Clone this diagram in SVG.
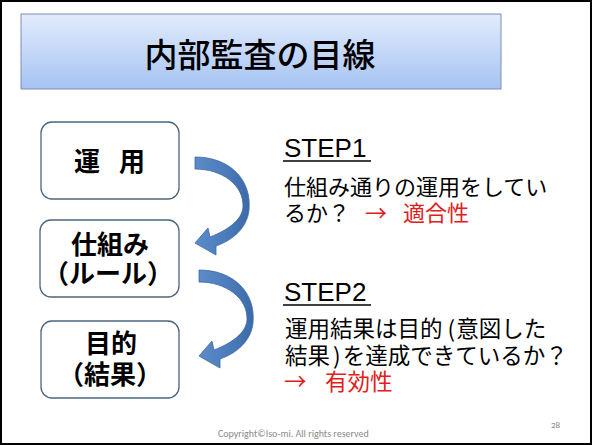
<svg xmlns="http://www.w3.org/2000/svg" width="592" height="445" viewBox="0 0 592 445">
<style>
.jp{font-family:"Noto Sans CJK JP","Noto Sans",sans-serif;}
.box{fill:#fff;stroke:#4b6580;stroke-width:1.3;}
.bt{font-family:"Noto Sans CJK JP",sans-serif;font-size:26px;font-weight:bold;fill:#000;text-anchor:middle;}
.body{font-family:"Noto Sans CJK JP",sans-serif;font-size:22px;fill:#000;}
.body2{font-family:"Noto Sans CJK JP",sans-serif;font-size:22.5px;fill:#000;}
.red{fill:#e02020;}
.step{font-family:"Liberation Sans",Arial,sans-serif;font-size:26px;fill:#000;}
.arrow{fill:url(#ag);stroke:#3b6aa3;stroke-width:0.8;}
.foot{font-family:Carlito,"Liberation Sans",sans-serif;fill:#8a8a8a;}
</style>
<defs>
<linearGradient id="tg" x1="0" y1="0" x2="0" y2="1">
<stop offset="0" stop-color="#e2ecfc"/>
<stop offset="1" stop-color="#a6c3f3"/>
</linearGradient>
<linearGradient id="ag" x1="0" y1="0" x2="1" y2="0">
<stop offset="0" stop-color="#5b8bc8"/>
<stop offset="0.6" stop-color="#4a7aba"/>
<stop offset="1" stop-color="#3c6aa8"/>
</linearGradient>
<path id="carrow" d="M195,157 C230,157 252,180 249,210 C247,228 233,240 216,246 L216,255 L195,243 L208,228 L210,237 C228,230 242,220 243,207 C244,185 222,169 195,169 Z"/>
</defs>
<rect x="0" y="0" width="592" height="445" fill="#fff"/>
<rect x="1" y="1" width="590" height="443" fill="none" stroke="#000" stroke-width="2"/>

<g id="title">
<rect x="21" y="14" width="480" height="75" fill="url(#tg)" stroke="#7d90b2" stroke-width="1"/>
<text x="260" y="67" class="jp" font-size="33" font-weight="500" text-anchor="middle" fill="#000">内部監査の目線</text>
</g>

<g id="node-unyo">
<rect x="41" y="122" width="138" height="77" rx="11" class="box"/>
<text class="bt" text-anchor="start"><tspan x="74" y="171" text-anchor="start">運</tspan><tspan x="119" y="171" text-anchor="start">用</tspan></text>
</g>
<g id="node-shikumi">
<rect x="40" y="220" width="139" height="77" rx="11" class="box"/>
<text class="bt"><tspan x="110" y="254">仕組み</tspan><tspan x="108" y="283">（ルール）</tspan></text>
</g>
<g id="node-mokuteki">
<rect x="41" y="321" width="138" height="77" rx="11" class="box"/>
<text class="bt"><tspan x="111" y="353">目的</tspan><tspan x="110" y="384">（結果）</tspan></text>
</g>

<g id="connectors">
<use href="#carrow" class="arrow"/>
<use href="#carrow" class="arrow" transform="translate(4,113)"/>
</g>

<g id="step1">
<text x="284" y="157" class="step">STEP1</text>
<line x1="283" y1="161" x2="371" y2="161" stroke="#000" stroke-width="1.5"/>
<text class="body"><tspan x="284" y="195">仕組み通りの運用をしてい</tspan><tspan x="284" y="221">るか？</tspan><tspan x="365" y="221" class="red">→</tspan><tspan x="403" y="221" class="red">適合性</tspan></text>
</g>

<g id="step2">
<text x="284" y="301" class="step">STEP2</text>
<line x1="283" y1="305" x2="371" y2="305" stroke="#000" stroke-width="1.5"/>
<text class="body2"><tspan x="285" y="337">運用結果は目的<tspan dx="5">(</tspan><tspan dx="1">意図した</tspan></tspan><tspan x="285" y="364">結果<tspan dx="3">)</tspan><tspan dx="2">を達成できているか？</tspan></tspan><tspan x="284" y="390" class="red">→</tspan><tspan x="325" y="390" class="red">有効性</tspan></text>
</g>

<g id="footer">
<text x="218" y="437" class="foot" font-size="10">Copyright©Iso-mi. All rights reserved</text>
<text x="551" y="428" class="foot" font-size="9">28</text>
</g>
</svg>
